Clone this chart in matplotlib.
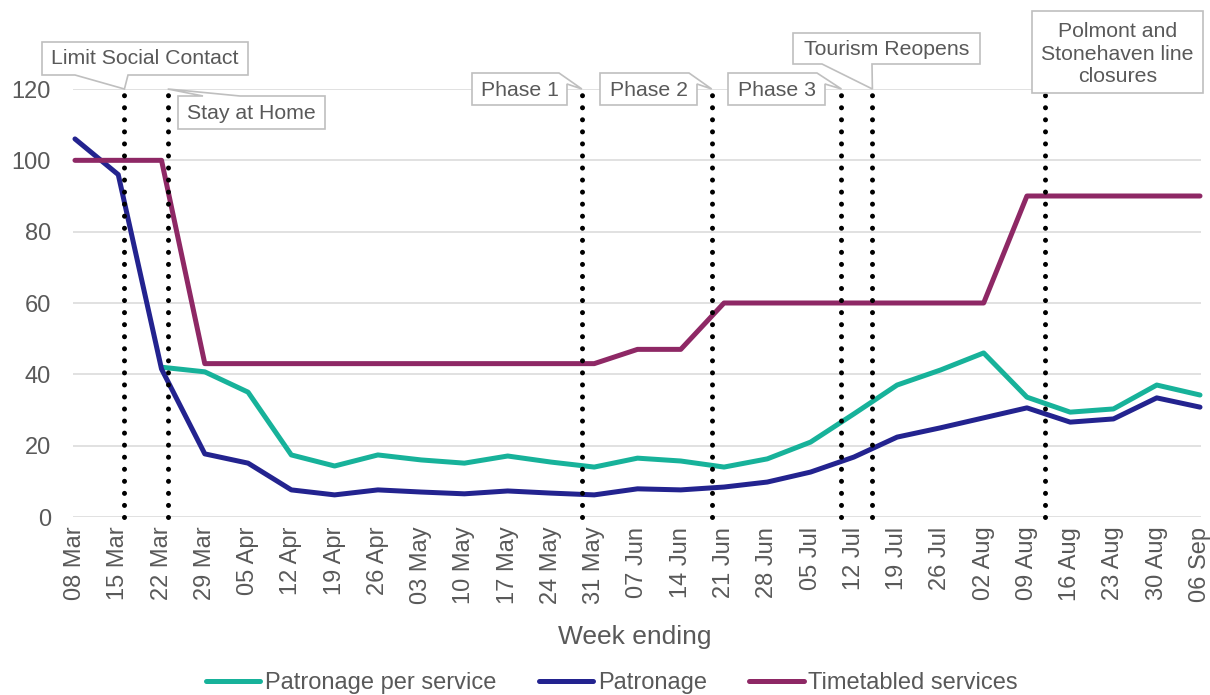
import matplotlib
matplotlib.use("Agg")
import matplotlib.pyplot as plt
from matplotlib.patches import Polygon
from matplotlib.transforms import Affine2D
import numpy as np

plt.rcParams['font.family'] = ['Liberation Sans', 'DejaVu Sans']

# ---- data -------------------------------------------------------------
week_labels = ["08 Mar", "15 Mar", "22 Mar", "29 Mar", "05 Apr", "12 Apr", "19 Apr",
               "26 Apr", "03 May", "10 May", "17 May", "24 May", "31 May", "07 Jun",
               "14 Jun", "21 Jun", "28 Jun", "05 Jul", "12 Jul", "19 Jul", "26 Jul",
               "02 Aug", "09 Aug", "16 Aug", "23 Aug", "30 Aug", "06 Sep"]

patronage_per_service = [np.nan, np.nan, 42.0, 40.7, 35.0, 17.4, 14.3, 17.4, 16.0, 15.1,
                         17.1, 15.4, 14.0, 16.5, 15.7, 14.0, 16.3, 21.0, 28.9, 37.0,
                         41.2, 46.0, 33.6, 29.4, 30.3, 37.0, 34.2]
patronage = [106.0, 96.0, 41.5, 17.7, 15.1, 7.6, 6.2, 7.6, 7.0, 6.5, 7.3, 6.7, 6.2, 7.9,
             7.6, 8.4, 9.8, 12.6, 16.8, 22.4, 25.0, 27.8, 30.6, 26.6, 27.5, 33.4, 30.8]
timetabled_services = [100, 100, 100, 43, 43, 43, 43, 43, 43, 43, 43, 43, 43, 47, 47,
                       60, 60, 60, 60, 60, 60, 60, 90, 90, 90, 90, 90]

# events: label and days after 08 Mar
event_labels = ["Limit Social Contact", "Stay at Home", "Phase 1", "Phase 2", "Phase 3",
                "Tourism Reopens", "Polmont and\nStonehaven line\nclosures"]
event_days = [8, 15, 82, 103, 124, 129, 157]

# ---- figure -----------------------------------------------------------
W, H = 1210, 695
fig = plt.figure(figsize=(W / 100, H / 100), dpi=100)
ax = fig.add_axes([73 / W, (H - 517) / H, (1201 - 73) / W, (517 - 89) / H])

grey_text = "#595959"
teal, navy, purple = "#17B29A", "#23238F", "#8E2865"

days = np.arange(len(week_labels)) * 7
line_kw = dict(lw=3.6, solid_joinstyle="round", solid_capstyle="round", clip_on=False)
ax.plot(days, patronage_per_service, color=teal, label="Patronage per service", zorder=3, **line_kw)
ax.plot(days, patronage, color=navy, label="Patronage", zorder=4, **line_kw)
ax.plot(days, timetabled_services, color=purple, label="Timetabled services", zorder=5, **line_kw)

for d in event_days:
    ax.plot([d, d], [0, 120], color="black", lw=3.6, linestyle=(0, (0.01, 2.4)),
            dash_capstyle="round", zorder=6, clip_on=False)

ax.set_xlim(-0.32, 182.16)
ax.set_ylim(0, 120)
ax.set_yticks(np.arange(0, 121, 20))
ax.set_xticks(days)
ax.set_xticklabels(week_labels, rotation=90)
ax.tick_params(axis="both", length=0, labelsize=17, labelcolor=grey_text)
ax.tick_params(axis="y", pad=16)
ax.tick_params(axis="x", pad=7)
ax.yaxis.grid(True, color="#D9D9D9", lw=1.1)
ax.set_axisbelow(True)
for s in ax.spines.values():
    s.set_visible(False)

fig.text(635 / W, 1 - 637 / H, "Week ending", ha="center", va="center",
         fontsize=19, color=grey_text)

fig.legend(loc="center", bbox_to_anchor=(612 / W, 1 - 683 / H), ncol=3, frameon=False,
           fontsize=17, handlelength=2.3, handletextpad=0.2, columnspacing=1.8,
           labelcolor=grey_text)

# ---- callouts (pixel coordinates, origin top-left) --------------------
fig.canvas.draw()
to_disp = Affine2D().scale(1, -1).translate(0, H)


def tip_of(day):
    x, y = ax.transData.transform((day, 120))
    return (x, H - y)


def callout(text, outline, center):
    poly = Polygon(outline, closed=True, facecolor="white", edgecolor="#BFBFBF",
                   lw=1.2, transform=to_disp, zorder=7)
    fig.add_artist(poly)
    cx, cy = to_disp.transform(center)
    fig.text(cx / W, cy / H, text, ha="center", va="center", fontsize=15.3,
             color=grey_text, zorder=8, linespacing=1.25)


t = [tip_of(d) for d in event_days]
callout(event_labels[0],
        [(42, 42), (248, 42), (248, 75), (128, 75), t[0], (75, 75), (42, 75)],
        (145, 59))
callout(event_labels[1],
        [(178, 96), (203, 96), t[1], (240, 96), (325, 96), (325, 129), (178, 129)],
        (251.5, 113.5))
for i, (l, r) in zip((2, 3, 4), ((472, 567), (600, 697), (728, 825))):
    callout(event_labels[i],
            [(l, 73), (r - 8, 73), t[i], (r, 84), (r, 105), (l, 105)],
            ((l + r) / 2, 90.5))
callout(event_labels[6 - 1],
        [(793, 33), (980, 33), (980, 64), (872, 64), t[5], (822, 64), (793, 64)],
        (886.5, 49.5))
callout(event_labels[6],
        [(1032, 11), (1203, 11), (1203, 93), (1032, 93)],
        (1117.5, 54))

fig.savefig("out.png", dpi=100)
